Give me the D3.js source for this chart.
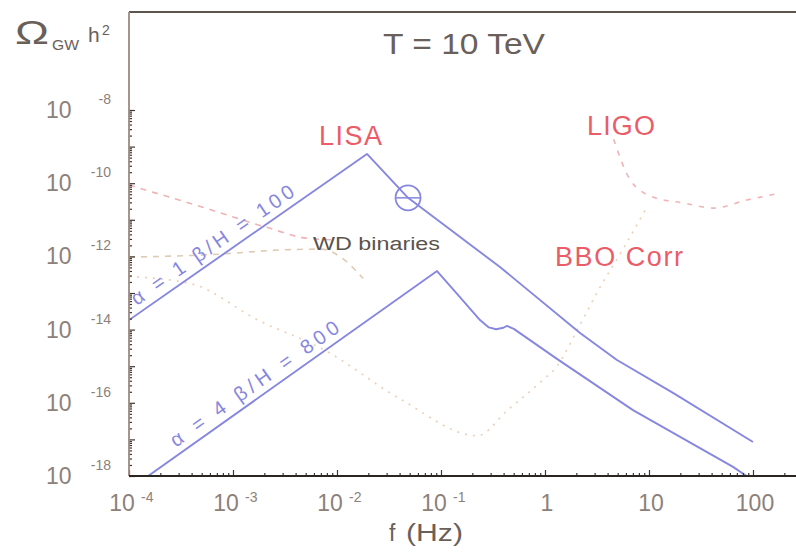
<!DOCTYPE html>
<html>
<head>
<meta charset="utf-8">
<script src="https://cdn.jsdelivr.net/npm/d3@7/dist/d3.min.js"></script>
<style>
  html, body { margin: 0; padding: 0; background: #ffffff; }
  svg { display: block; }
  text { font-family: "Liberation Sans", Arial, Helvetica, sans-serif; }
</style>
</head>
<body>
<svg id="chart" width="796" height="552"></svg>
<script>
// ---- data (log10 of frequency in Hz, log10 of Omega_GW h^2) ----
const freqTicks = [1e-4, 1e-3, 1e-2, 1e-1, 1, 10, 100];
const freqTickBase = ["10", "10", "10", "10", "1", "10", "100"];
const freqTickExp = ["-4", "-3", "-2", "-1", "", "", ""];
const omegaTicks = [1e-8, 1e-10, 1e-12, 1e-14, 1e-16, 1e-18];
const omegaTickExp = ["-8", "-10", "-12", "-14", "-16", "-18"];

// phase-transition spectrum, alpha = 1, beta/H = 100
const signalA_logF = [-4.0, -1.712, -1.317, -0.433, 0.337, 0.692, 1.231, 2.0];
const signalA_logOmega = [-13.74, -9.20, -10.40, -12.29, -14.09, -14.83, -15.73, -17.07];
// phase-transition spectrum, alpha = 4, beta/H = 800
const signalB_logF = [-3.9, -1.038, -0.837, -0.625, -0.54, -0.47, -0.40, -0.365, -0.30, 0.115, 0.846, 1.808, 2.0];
const signalB_logOmega = [-18.17, -12.40, -13.05, -13.74, -13.94, -13.99, -13.95, -13.90, -13.98, -14.80, -16.20, -17.75, -18.12];
// point marked with a circle on the alpha = 1 spectrum
const markerLogF = -1.317;
const markerLogOmega = -10.40;

// detector sensitivities and foreground
const lisa_logF = [-4.0, -3.3, -2.66, -2.3, -2.0];
const lisa_logOmega = [-10.05, -10.65, -11.22, -11.5, -11.55];
const wd_logF = [-4.0, -3.2, -2.5, -2.15, -1.95, -1.75];
const wd_logOmega = [-12.02, -11.95, -11.82, -11.8, -12.05, -12.6];
const bbo_logF = [-4.0, -3.4, -2.76, -2.12, -1.39, -0.65, -0.36, -0.05, 0.115, 0.33, 0.53, 0.75, 0.97];
const bbo_logOmega = [-12.55, -12.75, -13.74, -14.56, -15.9, -16.9, -16.2, -15.45, -15.0, -13.9, -12.84, -11.8, -10.7];
const ligo_logF = [0.66, 0.82, 1.04, 1.33, 1.62, 1.94, 2.26];
const ligo_logOmega = [-8.8, -9.91, -10.38, -10.54, -10.68, -10.46, -10.27];

// ---- layout ----
const plotL = 129, plotR = 796, plotT = 12, plotB = 476;

const svg = d3.select("#chart");

const x = d3.scaleLog().domain([1e-4, 100]).range([plotL, 753]);
const y = d3.scaleLog().domain([1e-18, 1e-8]).range([plotB, 110]);

const pow10 = v => Math.pow(10, v);
const zipPts = (fs, os) => fs.map((f, i) => [pow10(f), pow10(os[i])]);

svg.append("defs").append("clipPath").attr("id", "plotClip")
  .append("rect").attr("x", plotL).attr("y", plotT)
  .attr("width", plotR - plotL).attr("height", plotB - plotT);

const plot = svg.append("g").attr("clip-path", "url(#plotClip)");

const lineLin = d3.line().x(d => x(d[0])).y(d => y(d[1]));
const lineSmooth = d3.line().x(d => x(d[0])).y(d => y(d[1])).curve(d3.curveMonotoneX);

// sensitivity curves
const sens = [
  { pts: zipPts(lisa_logF, lisa_logOmega), color: "#efb2b5", dash: "6,6" },
  { pts: zipPts(wd_logF, wd_logOmega), color: "#dfcbb3", dash: "6,6" },
  { pts: zipPts(bbo_logF, bbo_logOmega), color: "#eacfb9", dash: "2,6" },
  { pts: zipPts(ligo_logF, ligo_logOmega), color: "#f0b4b7", dash: "5,7" }
];
plot.selectAll("path.sens").data(sens).join("path")
  .attr("class", "sens")
  .attr("d", d => lineSmooth(d.pts))
  .attr("fill", "none")
  .attr("stroke", d => d.color)
  .attr("stroke-width", 1.6)
  .attr("stroke-dasharray", d => d.dash);

// signal spectra
const blue = "#8787e0";
const signals = [zipPts(signalA_logF, signalA_logOmega), zipPts(signalB_logF, signalB_logOmega)];
plot.selectAll("path.sig").data(signals).join("path")
  .attr("class", "sig")
  .attr("d", d => lineLin(d))
  .attr("fill", "none")
  .attr("stroke", blue)
  .attr("stroke-width", 1.9)
  .attr("stroke-linejoin", "round");

// circle marker
const mx = x(pow10(markerLogF)), my = y(pow10(markerLogOmega));
plot.append("circle").attr("cx", mx).attr("cy", my).attr("r", 12.5)
  .attr("fill", "none").attr("stroke", blue).attr("stroke-width", 1.8);
plot.append("line").attr("x1", mx - 12.5).attr("x2", mx + 12.5)
  .attr("y1", my).attr("y2", my)
  .attr("stroke", blue).attr("stroke-width", 1.5);

// ---- axes ----
const majorF = freqTicks;
const minorF = [];
for (let e = -4; e <= 2; e++) for (let k = 2; k <= 9; k++) {
  const v = k * Math.pow(10, e);
  if (x(v) < plotR) minorF.push(v);
}
const majorO = [], minorO = [];
for (let e = -18; e <= -8; e++) {
  majorO.push(Math.pow(10, e));
  if (e < -8) for (let k = 2; k <= 9; k++) minorO.push(k * Math.pow(10, e));
}

const axisColor = "#3d3632";
function drawAxis(axis, tr) {
  const g = svg.append("g").attr("transform", tr).call(axis);
  g.select(".domain").remove();
  g.selectAll(".tick line").attr("stroke", axisColor).attr("stroke-width", 1.2);
  g.selectAll(".tick text").remove();
}
drawAxis(d3.axisTop(x).tickValues(majorF).tickSize(6).tickFormat(""), `translate(0,${plotB})`);
drawAxis(d3.axisTop(x).tickValues(minorF).tickSize(3).tickFormat(""), `translate(0,${plotB})`);
drawAxis(d3.axisRight(y).tickValues(majorO).tickSize(6).tickFormat(""), `translate(${plotL},0)`);
drawAxis(d3.axisRight(y).tickValues(minorO).tickSize(3).tickFormat(""), `translate(${plotL},0)`);

// frame lines
svg.append("line").attr("x1", plotL).attr("x2", plotR).attr("y1", plotT).attr("y2", plotT)
  .attr("stroke", "#5e554f").attr("stroke-width", 2);
svg.append("line").attr("x1", plotL).attr("x2", plotL).attr("y1", plotT).attr("y2", plotB)
  .attr("stroke", "#9c8a80").attr("stroke-width", 1.8);
svg.append("line").attr("x1", plotL).attr("x2", plotR).attr("y1", plotB).attr("y2", plotB)
  .attr("stroke", "#2b2522").attr("stroke-width", 2);

// tick labels
const labelColor = "#8c817a";
omegaTicks.forEach((v, i) => {
  const ty = y(v);
  svg.append("text").attr("x", 46).attr("y", ty + 8)
    .attr("font-size", 23).attr("fill", labelColor).text("10");
  svg.append("text").attr("x", 111).attr("y", ty - 6)
    .attr("text-anchor", "end")
    .attr("font-size", 14).attr("fill", labelColor).text(omegaTickExp[i]);
});
freqTicks.forEach((v, i) => {
  const tx = x(v);
  if (freqTickExp[i]) {
    svg.append("text").attr("x", tx - 7).attr("y", 511).attr("text-anchor", "middle")
      .attr("font-size", 23).attr("fill", labelColor).text(freqTickBase[i]);
    svg.append("text").attr("x", tx + 12).attr("y", 502)
      .attr("font-size", 14).attr("fill", labelColor).text(freqTickExp[i]);
  } else {
    svg.append("text").attr("x", tx + 2).attr("y", 511).attr("text-anchor", "middle")
      .attr("font-size", 23).attr("fill", labelColor).text(freqTickBase[i]);
  }
});

// axis titles
const titleColor = "#6a605a";
svg.append("text").attr("x", 15).attr("y", 44).attr("font-size", 34).attr("fill", titleColor)
  .attr("textLength", 34).attr("lengthAdjust", "spacingAndGlyphs").text("Ω");
svg.append("text").attr("x", 52).attr("y", 50).attr("font-size", 15).attr("fill", titleColor)
  .attr("textLength", 27).attr("lengthAdjust", "spacingAndGlyphs").text("GW");
svg.append("text").attr("x", 88).attr("y", 42).attr("font-size", 21).attr("fill", titleColor).text("h");
svg.append("text").attr("x", 102).attr("y", 35).attr("font-size", 14).attr("fill", titleColor).text("2");
svg.append("text").attr("x", 389).attr("y", 541).attr("font-size", 23).attr("fill", titleColor)
  .text("f");
svg.append("text").attr("x", 406).attr("y", 541).attr("font-size", 23).attr("fill", titleColor)
  .attr("textLength", 57).attr("lengthAdjust", "spacingAndGlyphs").text("(Hz)");

svg.append("text").attr("x", 383).attr("y", 54).attr("font-size", 29).attr("fill", titleColor)
  .attr("textLength", 162).attr("lengthAdjust", "spacingAndGlyphs").text("T = 10 TeV");

// curve labels
const red = "#ea5d68";
[["LISA", 319, 145, 63], ["LIGO", 587, 135, 68], ["BBO Corr", 555, 266, 128]].forEach(d => {
  svg.append("text").attr("x", d[1]).attr("y", d[2]).attr("font-size", 27).attr("fill", red)
    .attr("textLength", d[3]).attr("lengthAdjust", "spacing").text(d[0]);
});
svg.append("text").attr("x", 313).attr("y", 250).attr("font-size", 18).attr("fill", "#5b534d")
  .attr("textLength", 127).attr("lengthAdjust", "spacingAndGlyphs").text("WD binaries");

// parameter labels along the rising branches
function slopeLabel(pts, fStart, txt, len) {
  const p0 = pts[0], p1 = pts[1];
  const x0 = x(p0[0]), y0 = y(p0[1]), x1 = x(p1[0]), y1 = y(p1[1]);
  const ang = Math.atan2(y1 - y0, x1 - x0) * 180 / Math.PI;
  const t = (Math.log10(fStart) - Math.log10(p0[0])) / (Math.log10(p1[0]) - Math.log10(p0[0]));
  const sx = x0 + t * (x1 - x0), sy = y0 + t * (y1 - y0);
  svg.append("text")
    .attr("transform", `translate(${sx},${sy}) rotate(${ang})`)
    .attr("dy", -7)
    .attr("font-size", 20).attr("fill", blue)
    .attr("textLength", len).attr("lengthAdjust", "spacing")
    .text(txt);
}
slopeLabel(signals[0], 1.3e-4, "α = 1   β/H = 100", 194);
slopeLabel(signals[1], 3.1e-4, "α = 4   β/H = 800", 202);
</script>
</body>
</html>
